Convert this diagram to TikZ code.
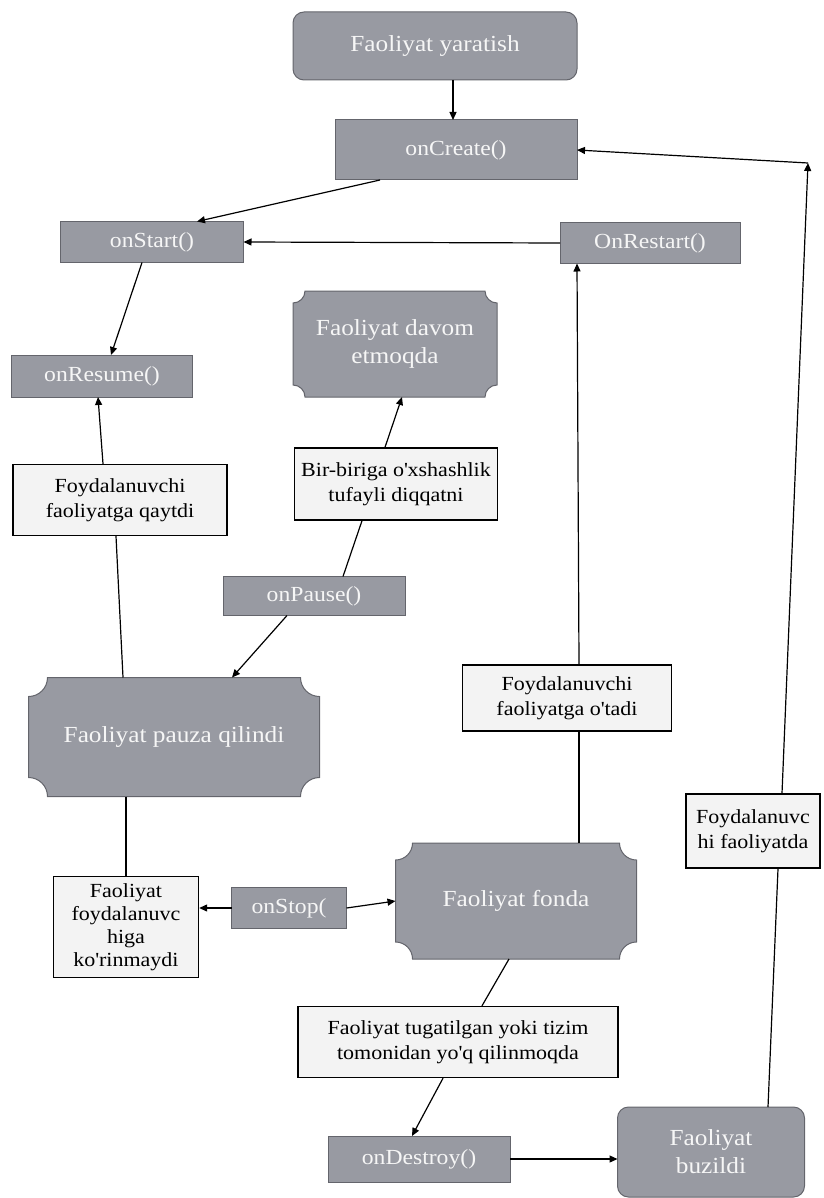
\documentclass[tikz,border=0pt]{standalone}
\usepackage{fontspec}
\setmainfont[FakeStretch=1.1]{Liberation Serif}
\usetikzlibrary{arrows.meta,backgrounds}
\definecolor{boxgray}{RGB}{152,154,162}
\definecolor{boxedge}{RGB}{100,101,108}
\definecolor{notefill}{RGB}{243,243,243}
\definecolor{paletext}{RGB}{246,246,246}
\newcommand{\ap}{\textquotesingle}
% concave-cornered background for a named node
\newcommand{\plaquebg}[2]{%
  \begin{pgfonlayer}{background}
    \filldraw[draw=boxedge,fill=boxgray,line width=1pt]
      ([xshift=#2]#1.north west) -- ([xshift=-#2]#1.north east)
      arc[start angle=180,end angle=270,radius=#2] -- ([yshift=#2]#1.south east)
      arc[start angle=90,end angle=180,radius=#2] -- ([xshift=#2]#1.south west)
      arc[start angle=0,end angle=90,radius=#2] -- ([yshift=-#2]#1.north west)
      arc[start angle=270,end angle=360,radius=#2] -- cycle;
  \end{pgfonlayer}}

\begin{document}
\begin{tikzpicture}[x=1pt,y=-1pt,
  box/.style={draw=boxedge,fill=boxgray,line width=1pt,text=paletext,font=\fontsize{21.5}{24}\selectfont,inner sep=0pt,outer sep=0pt},
  card/.style={box,rounded corners=11pt,align=center,font=\fontsize{23}{28}\selectfont},
  plaque/.style={text=paletext,font=\fontsize{23}{28}\selectfont,align=center,inner sep=0pt,outer sep=0pt},
  note/.style={draw=black,fill=notefill,line width=1.4pt,font=\fontsize{20}{25}\selectfont,align=center,inner sep=2pt},
  arr/.style={-{Triangle[length=8pt,width=7pt]},line width=1.2pt},
  link/.style={line width=1.2pt}]
  \useasboundingbox (0,0) rectangle (823,1198);
  % Lifecycle boxes
  \node[card,minimum width=284pt,minimum height=68pt] (yarat) at (435,46) {Faoliyat yaratish};
  \node[box,minimum width=242pt,minimum height=60pt] (create) at (456,150) {onCreate()};
  \node[box,minimum width=183pt,minimum height=41pt] (start) at (152,242) {onStart()};
  \node[box,minimum width=180pt,minimum height=41pt] (restart) at (650,243) {OnRestart()};
  \node[box,minimum width=181pt,minimum height=42pt] (resume) at (102,376) {onResume()};
  \node[box,minimum width=182pt,minimum height=39pt] (pause) at (314,596) {onPause()};
  \node[box,minimum width=115pt,minimum height=41pt] (stop) at (289,908) {onStop(};
  \node[box,minimum width=182pt,minimum height=46pt] (destroy) at (419,1159) {onDestroy()};
  \node[card,minimum width=187pt,minimum height=90pt] (buzil) at (711,1152) {Faoliyat\\buzildi};
  % States
  \node[plaque,minimum width=204pt,minimum height=106pt] (davom) at (395,344) {Faoliyat davom\\etmoqda};
  \node[plaque,minimum width=291pt,minimum height=119pt] (pauza) at (174,737) {Faoliyat pauza qilindi};
  \node[plaque,minimum width=241pt,minimum height=116pt] (fonda) at (516,901) {Faoliyat fonda};
  \plaquebg{davom}{12pt}
  \plaquebg{pauza}{19pt}
  \plaquebg{fonda}{17pt}
  % Transition notes
  \node[note,minimum width=214pt,minimum height=71pt] (qaytdi) at (120,500) {Foydalanuvchi\\faoliyatga qaytdi};
  \node[note,minimum width=203pt,minimum height=72pt] (oxshash) at (396,484) {Bir-biriga o\ap xshashlik\\tufayli diqqatni};
  \node[note,minimum width=209pt,minimum height=66pt] (otadi) at (567,698) {Foydalanuvchi\\faoliyatga o\ap tadi};
  \node[note,minimum width=134pt,minimum height=74pt] (faolda) at (753,831) {Foydalanuvc\\hi faoliyatda};
  \node[note,minimum width=145pt,minimum height=101pt,inner sep=1pt,font=\fontsize{20}{23}\selectfont] (korinmas) at (126,927) {Faoliyat\\foydalanuvc\\higa\\ko\ap rinmaydi};
  \node[note,minimum width=320pt,minimum height=71pt] (tugat) at (458,1042) {Faoliyat tugatilgan yoki tizim\\tomonidan yo\ap q qilinmoqda};
  \coordinate (corner) at (808,163);
  % Connectors
  \draw[arr] ([xshift=18pt]yarat.south) -- ([xshift=-3pt]create.north);
  \draw[arr] ([xshift=-76pt]create.south) -- ([xshift=45pt]start.north);
  \draw[arr] (restart.west) -- (start.east);
  \draw[arr] ([xshift=-10pt]start.south) -- ([xshift=9pt]resume.north);
  \draw[link] ([xshift=-51pt]pauza.north) -- ([xshift=-4pt]qaytdi.south);
  \draw[arr] ([xshift=-17pt]qaytdi.north) -- ([xshift=-4pt]resume.south);
  \draw[arr] ([xshift=-27pt]pause.south) -- ([xshift=58pt]pauza.north);
  \draw[link] ([xshift=29pt]pause.north) -- ([xshift=-34pt]oxshash.south);
  \draw[arr] ([xshift=-11pt]oxshash.north) -- ([xshift=7pt]davom.south);
  \draw[link] ([xshift=-48pt]pauza.south) -- (korinmas.north);
  \draw[arr] (stop.west) -- (stop.west -| korinmas.east);
  \draw[arr] (stop.east) -- (fonda.west);
  \draw[link] ([xshift=63pt]fonda.north) -- ([xshift=12pt]otadi.south);
  \draw[arr] ([xshift=12pt]otadi.north) -- ([xshift=-73pt]restart.south);
  \draw[link] ([xshift=-7pt]fonda.south) -- ([xshift=24pt]tugat.north);
  \draw[arr] ([xshift=-15pt]tugat.south) -- ([xshift=-7pt]destroy.north);
  \draw[arr] (destroy.east) -- (destroy.east -| buzil.west);
  \draw[link] ([xshift=57pt]buzil.north) -- ([xshift=25pt]faolda.south);
  \draw[arr] ([xshift=29pt]faolda.north) -- (corner);
  \draw[arr] (corner) -- (create.east);
\end{tikzpicture}
\end{document}
